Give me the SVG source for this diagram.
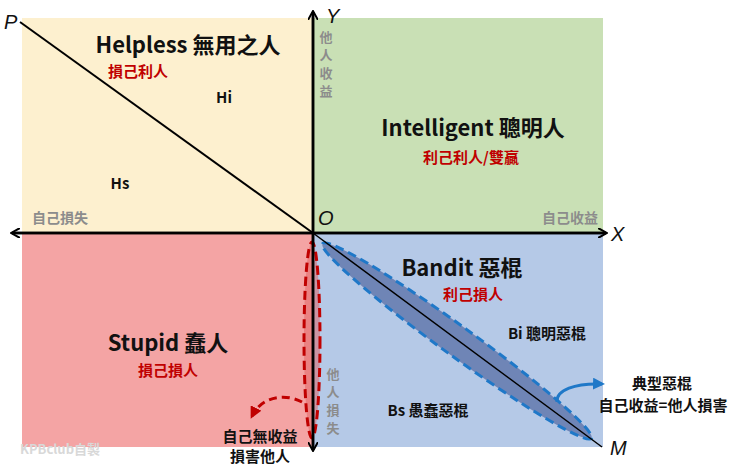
<svg xmlns="http://www.w3.org/2000/svg" width="740" height="470" viewBox="0 0 740 470">
<style>
text{font-family:"Noto Sans CJK TC","Noto Sans",sans-serif;font-weight:bold}
.t{font-size:22px;fill:#111}
.r{font-size:15px;fill:#c00000}
.g{font-size:14px;fill:#8c8c8c}
.v{font-size:13px;fill:#8c8c8c}
.k{font-size:15px;fill:#111}
.a{font-family:"Liberation Sans",sans-serif;font-style:italic;font-size:20px;font-weight:normal;fill:#111}
</style>
<defs>
<marker id="ah" markerWidth="10" markerHeight="10" refX="8" refY="5" orient="auto" markerUnits="userSpaceOnUse"><path d="M0,0 L9,5 L0,10" fill="none" stroke="#000" stroke-width="2"/></marker>
<marker id="bh" markerWidth="12" markerHeight="12" refX="9" refY="6" orient="auto" markerUnits="userSpaceOnUse"><path d="M0,0 L12,6 L0,12 Z" fill="#1f78c8"/></marker>
<marker id="rh" markerWidth="12" markerHeight="12" refX="9" refY="6" orient="auto" markerUnits="userSpaceOnUse"><path d="M0,0 L12,6 L0,12 Z" fill="#c00000"/></marker>
</defs>
<rect width="740" height="470" fill="#fff"/>
<g id="quadrants">
<rect x="22" y="18" width="291" height="215" fill="#fdf0cf"/>
<rect x="313" y="18" width="290" height="215" fill="#c9e0b5"/>
<rect x="22" y="233" width="291" height="214" fill="#f4a4a4"/>
<rect x="313" y="233" width="290" height="214" fill="#b5c9e7"/>
</g>
<g id="connectors">
<line x1="20" y1="22" x2="313" y2="233" stroke="#000" stroke-width="2"/>
<ellipse cx="457" cy="341" rx="166" ry="15" transform="rotate(35.9 457 341)" fill="#6f85b6" stroke="#1f78c8" stroke-width="3" stroke-dasharray="9 5"/>
<line x1="313" y1="233" x2="602" y2="447" stroke="#000" stroke-width="1.5"/>
<ellipse cx="312" cy="340" rx="8" ry="98" fill="#e06060" fill-opacity="0.5" stroke="#c00000" stroke-width="3" stroke-dasharray="9 5"/>
<line x1="12" y1="233" x2="606" y2="233" stroke="#000" stroke-width="2.5" marker-end="url(#ah)"/>
<line x1="606" y1="233" x2="12" y2="233" stroke="#000" stroke-width="2.5" marker-end="url(#ah)"/>
<line x1="313" y1="450" x2="313" y2="12" stroke="#000" stroke-width="2.5" marker-end="url(#ah)"/>
<line x1="313" y1="12" x2="313" y2="450" stroke="#000" stroke-width="2.5" marker-end="url(#ah)"/>
<path d="M302,402 C285,393 262,396 252,416" fill="none" stroke="#c00000" stroke-width="3" stroke-dasharray="8 5" marker-end="url(#rh)"/>
<path d="M557,402 C556,390 575,383 602,384" fill="none" stroke="#1f78c8" stroke-width="3" marker-end="url(#bh)"/>
</g>
<g id="labels">
<text class="a" x="4" y="29">P</text>
<text class="a" x="326" y="23">Y</text>
<text class="a" x="318" y="225">O</text>
<text class="a" x="611" y="241">X</text>
<text class="a" x="610" y="455">M</text>
</g>
<g id="helpless">
<text class="t" x="188" y="53" text-anchor="middle">Helpless 無用之人</text>
<text class="r" x="138" y="77" text-anchor="middle">損己利人</text>
<text class="k" x="224" y="103" text-anchor="middle">Hi</text>
<text class="k" x="120" y="189" text-anchor="middle">Hs</text>
<text class="g" x="60" y="223" text-anchor="middle">自己損失</text>
<text class="v" x="326" y="42" text-anchor="middle">他</text>
<text class="v" x="326" y="60" text-anchor="middle">人</text>
<text class="v" x="326" y="78" text-anchor="middle">收</text>
<text class="v" x="326" y="96" text-anchor="middle">益</text>
</g>
<g id="intelligent">
<text class="t" x="473" y="136" text-anchor="middle">Intelligent 聰明人</text>
<text class="r" x="471" y="163" text-anchor="middle">利己利人/雙贏</text>
<text class="g" x="570" y="223" text-anchor="middle">自己收益</text>
</g>
<g id="bandit">
<text class="t" x="462" y="276" text-anchor="middle">Bandit 惡棍</text>
<text class="r" x="473" y="300" text-anchor="middle">利己損人</text>
<text class="k" x="547" y="339" text-anchor="middle">Bi 聰明惡棍</text>
<text class="k" x="428" y="416" text-anchor="middle">Bs 愚蠢惡棍</text>
<text class="k" x="662" y="389" text-anchor="middle">典型惡棍</text>
<text class="k" x="663" y="411" text-anchor="middle">自己收益=他人損害</text>
</g>
<g id="stupid">
<text class="t" x="168" y="351" text-anchor="middle">Stupid 蠢人</text>
<text class="r" x="168" y="376" text-anchor="middle">損己損人</text>
<text class="v" x="333" y="379" text-anchor="middle">他</text>
<text class="v" x="333" y="397" text-anchor="middle">人</text>
<text class="v" x="333" y="415" text-anchor="middle">損</text>
<text class="v" x="333" y="433" text-anchor="middle">失</text>
<text class="k" x="260" y="442" text-anchor="middle">自己無收益</text>
<text class="k" x="260" y="462" text-anchor="middle">損害他人</text>
<text x="60" y="454" text-anchor="middle" style="font-size:13px;fill:#d8d8d8">KPBclub自製</text>
</g>
</svg>
